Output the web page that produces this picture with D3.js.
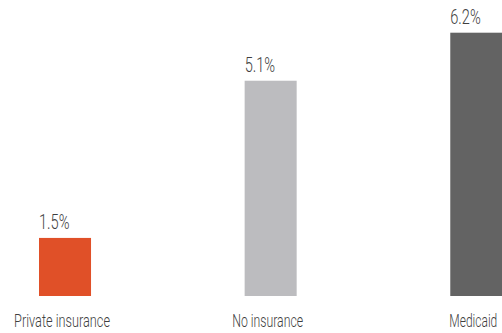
<!DOCTYPE html>
<html>
<head>
<meta charset="utf-8">
<script src="https://cdn.jsdelivr.net/npm/d3@7"></script>
<style>
  html, body { margin: 0; padding: 0; background: #fff; }
  svg { display: block; }
  text { font-family: Roboto, "Liberation Sans", sans-serif; font-weight: 300; fill: #3f3f3f; }
</style>
</head>
<body>
<svg id="chart" width="502" height="333"></svg>
<script>
// Share of people, by insurance type
const categories = ["Private insurance", "No insurance", "Medicaid"];
const values = [1.5, 5.1, 6.2];
const valueLabels = ["1.5%", "5.1%", "6.2%"];
const colors = ["#e05028", "#bcbcbf", "#636363"];

const svg = d3.select("#chart");
const baseY = 296;

const x = d3.scaleBand()
  .domain(categories)
  .range([39, 502.3])
  .paddingInner(0.747)
  .paddingOuter(0);

const y = d3.scaleLinear()
  .domain([0.17, 6.2])
  .range([baseY, 32.7]);

const data = categories.map((c, i) => ({ c, v: values[i], label: valueLabels[i], color: colors[i] }));

svg.selectAll("rect.bar")
  .data(data)
  .join("rect")
  .attr("class", "bar")
  .attr("x", d => x(d.c))
  .attr("width", x.bandwidth())
  .attr("y", d => y(d.v))
  .attr("height", d => baseY - y(d.v))
  .attr("fill", d => d.color);

// Squeeze a text horizontally to a target width (condensed look)
function condense(sel, widthOf) {
  sel.each(function (d) {
    const el = d3.select(this);
    const natural = this.getComputedTextLength();
    const sx = natural > 0 ? widthOf(d) / natural : 1;
    el.attr("transform", `translate(${el.attr("data-x")},${el.attr("data-y")}) scale(${sx},1)`);
  });
}

// value labels above each bar, left-aligned with it
svg.selectAll("text.val")
  .data(data)
  .join("text")
  .attr("class", "val")
  .attr("data-x", d => x(d.c))
  .attr("data-y", d => y(d.v) - 9)
  .attr("font-size", 19.5)
  .text(d => d.label)
  .call(condense, () => 30.5);

// category labels below the bars
const catWidths = { "Private insurance": 96, "No insurance": 71, "Medicaid": 48 };
svg.selectAll("text.cat")
  .data(data)
  .join("text")
  .attr("class", "cat")
  .attr("data-x", d => x(d.c) + x.bandwidth() / 2 - 3)
  .attr("data-y", 327)
  .attr("text-anchor", "middle")
  .attr("font-size", 18.5)
  .text(d => d.c)
  .call(condense, d => catWidths[d.c]);
</script>
</body>
</html>
